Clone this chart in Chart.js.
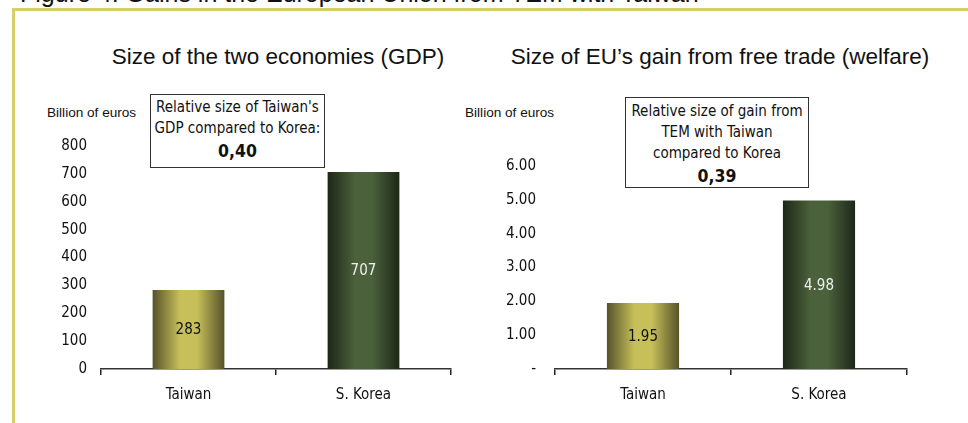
<!DOCTYPE html>
<html>
<head>
<meta charset="utf-8">
<script src="https://cdn.jsdelivr.net/npm/chart.js@4"></script>
<style>
  body { margin: 0; background: #fff; width: 968px; height: 423px; overflow: hidden; position: relative; font-family: "Liberation Sans", Arial, sans-serif; }
  .fig-title { position: absolute; left: 20px; top: -19px; font-size: 25px; line-height: 1; color: #111; white-space: nowrap; }
  .frame { position: absolute; left: 12px; top: 8px; right: 0; bottom: 0; border-top: 3px solid #d4cf6a; border-left: 3px solid #d4cf6a; }
  .title { position: absolute; top: 44px; font-size: 22.5px; line-height: 26px; color: #111; white-space: nowrap; transform: translateX(-50%); }
  .unit { position: absolute; top: 105px; font-size: 13.6px; line-height: 16px; color: #111; white-space: nowrap; }
  .note { position: absolute; border: 1px solid #333; background: #fff; text-align: center; font-family: "DejaVu Sans Condensed", sans-serif; font-size: 15px; line-height: 21px; color: #111; box-sizing: border-box; }
  .note b { font-size: 17.5px; line-height: 24px; }
  canvas { position: absolute; top: 0; }
</style>
</head>
<body>
<div class="fig-title">Figure 4: Gains in the European Union from TEM with Taiwan</div>
<div class="frame"></div>

<div class="title" style="left:278px">Size of the two economies (GDP)</div>
<div class="title" style="left:720px">Size of EU’s gain from free trade (welfare)</div>
<div class="unit" style="left:47px">Billion of euros</div>
<div class="unit" style="left:465px">Billion of euros</div>

<canvas id="gdpChart" style="left:0"></canvas>
<canvas id="gainChart" style="left:484px"></canvas>

<div class="note" style="left:150px;top:94px;width:175px;height:74px;padding-top:2px">
  Relative size of Taiwan's<br>GDP compared to Korea:<br><b>0,40</b>
</div>
<div class="note" style="left:625px;top:97px;width:184px;height:91px;padding-top:3px">
  Relative size of gain from<br>TEM with Taiwan<br>compared to Korea<br><b>0,39</b>
</div>

<script>
const categories = ['Taiwan', 'S. Korea'];
const gdpValues = [283, 707];
const gainValues = [1.95, 4.98];
const gdpTicks = { max: 800, step: 100 };
const gainTicks = { max: 6, step: 1 };

const barLabelColors = ['#111', '#eeeeee'];
// edge / middle shades for the cylinder look
const barShades = [
    ['#57532a', '#c6bf5a'],
    ['#1d2717', '#4b613b']
];

const FONT = '"DejaVu Sans Condensed", sans-serif';

function barFill(ctx, pct) {
    const chart = ctx.chart;
    const x = chart.scales.x;
    if (!chart.chartArea || !x) return barShades[ctx.dataIndex][1];
    const cx = x.getPixelForValue(ctx.dataIndex);
    const half = x.width / categories.length * pct / 2;
    const g = chart.ctx.createLinearGradient(cx - half, 0, cx + half, 0);
    const [edge, mid] = barShades[ctx.dataIndex];
    g.addColorStop(0, edge);
    g.addColorStop(0.38, mid);
    g.addColorStop(0.62, mid);
    g.addColorStop(1, edge);
    return g;
}

// value printed in the middle of each bar
const midLabels = {
    id: 'midLabels',
    afterDatasetsDraw(chart, args, opts) {
        const { ctx } = chart;
        const meta = chart.getDatasetMeta(0);
        const data = chart.data.datasets[0].data;
        ctx.save();
        ctx.font = '15px ' + FONT;
        ctx.textAlign = 'center';
        ctx.textBaseline = 'middle';
        meta.data.forEach((bar, i) => {
            ctx.fillStyle = barLabelColors[i];
            ctx.fillText(opts.format(data[i]), bar.x, (bar.y + bar.base) / 2 + 1);
        });
        ctx.restore();
    }
};

function makeChart(id, values, ticks, cfg) {
    const el = document.getElementById(id);
    el.width = 484;
    el.height = 423;
    const pct = 0.41;
    return new Chart(el, {
        type: 'bar',
        data: {
            labels: categories,
            datasets: [{
                data: values,
                backgroundColor: ctx => barFill(ctx, pct),
                borderWidth: 0,
                categoryPercentage: 1,
                barPercentage: pct
            }]
        },
        options: {
            responsive: false,
            animation: false,
            layout: { padding: { top: cfg.top, right: cfg.right, left: 0, bottom: 0 } },
            plugins: {
                legend: { display: false },
                tooltip: { enabled: false },
                midLabels: { format: cfg.valueFormat }
            },
            scales: {
                x: {
                    grid: { display: true, drawOnChartArea: false, drawTicks: true, tickLength: 6, color: '#222', lineWidth: 1.5, offset: true },
                    border: { display: true, color: '#333', width: 1.5 },
                    ticks: { color: '#111', font: { family: FONT, size: 15 }, padding: 11 },
                    afterFit: s => { s.height = 423 - 369; }
                },
                y: {
                    min: 0,
                    max: ticks.max,
                    grid: { display: false, drawTicks: false },
                    border: { display: false },
                    ticks: {
                        stepSize: ticks.step,
                        color: '#111',
                        font: { family: FONT, size: 15 },
                        padding: cfg.tickPad,
                        callback: cfg.tickFormat
                    },
                    afterFit: s => { s.width = cfg.axisWidth; }
                }
            }
        },
        plugins: [midLabels]
    });
}

makeChart('gdpChart', gdpValues, gdpTicks, {
    top: 146, right: 484 - 451, axisWidth: 101, tickPad: 14,
    tickFormat: v => String(v),
    valueFormat: v => String(v)
});

makeChart('gainChart', gainValues, gainTicks, {
    top: 166, right: 484 - 423, axisWidth: 71, tickPad: 19,
    tickFormat: v => v === 0 ? '-' : v.toFixed(2),
    valueFormat: v => v.toFixed(2)
});
</script>
</body>
</html>
